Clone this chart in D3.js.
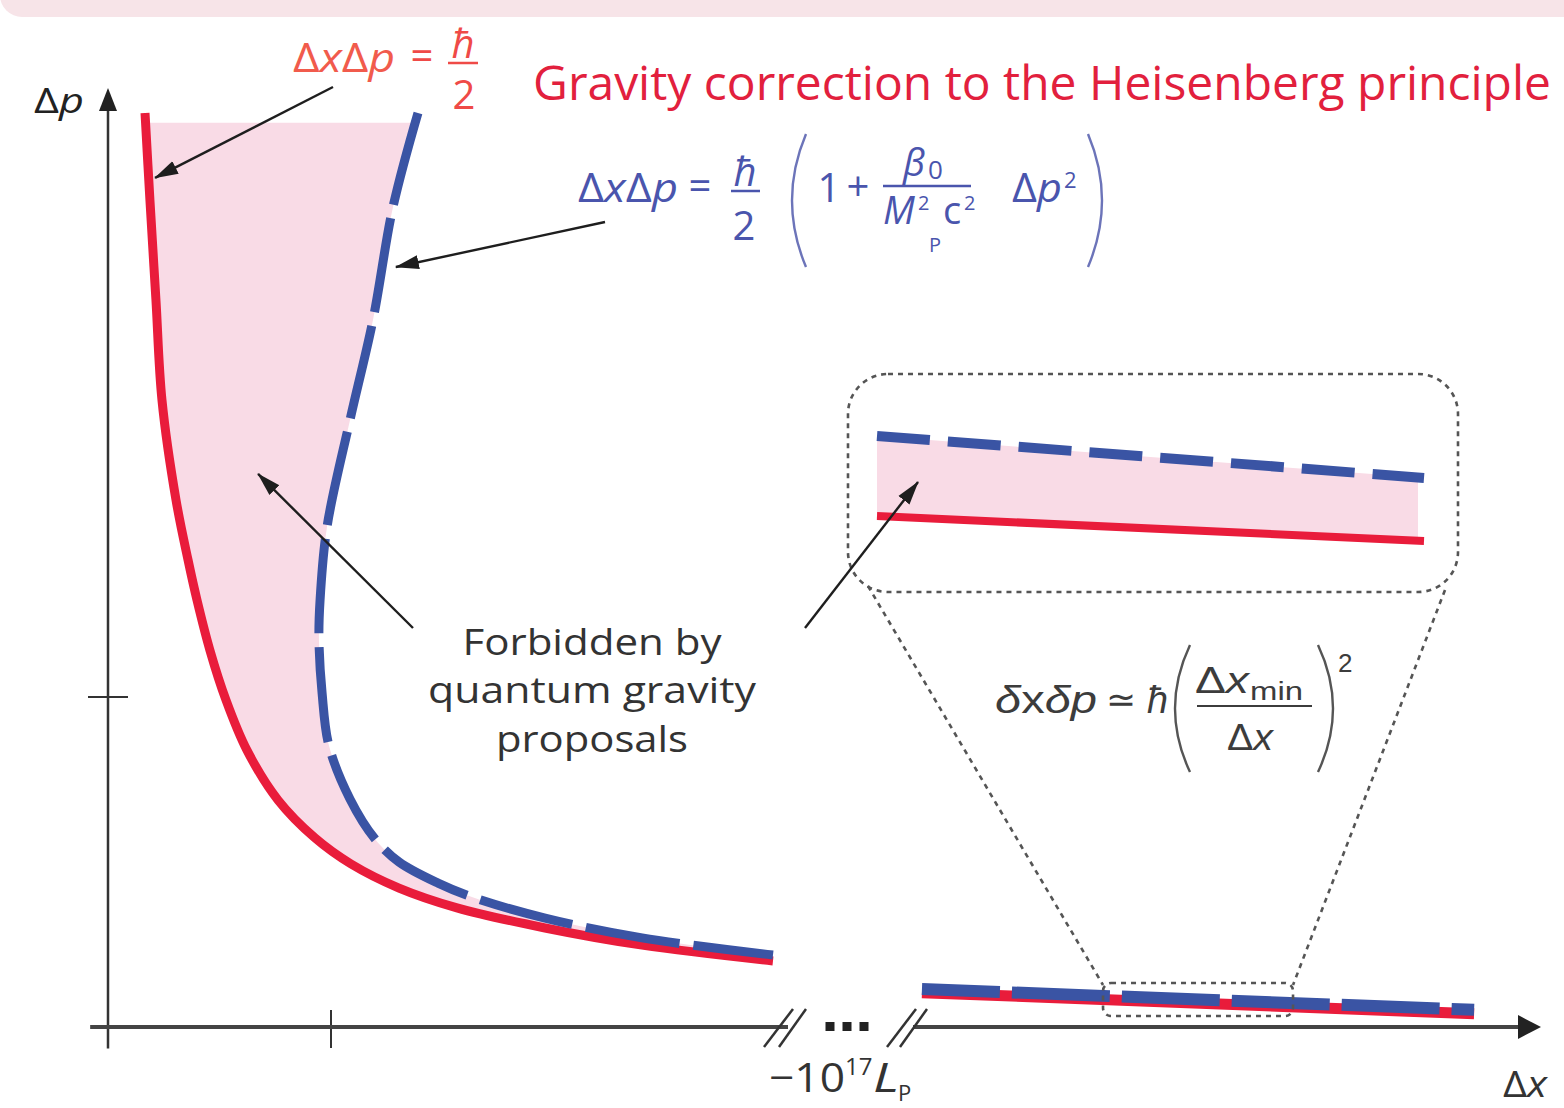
<!DOCTYPE html>
<html><head><meta charset="utf-8">
<script src="https://cdn.jsdelivr.net/npm/d3@7"></script>
<style>body{margin:0;background:#fff}svg{display:block}</style>
</head><body>
<svg id="chart" width="1564" height="1108"></svg>
<script>
// ---------- data (axis units: x 1 = marked Δx tick, y 1 = marked Δp tick) ----------
const heisenbergDx = [0.166,0.188,0.215,0.242,0.305,0.359,0.399,0.457,0.529,0.623,0.762,0.928,1.090,1.305,1.565,1.960,2.395,2.982];
const heisenbergDp = [2.770,2.506,2.203,1.900,1.597,1.415,1.294,1.142,0.991,0.839,0.688,0.573,0.494,0.421,0.361,0.300,0.248,0.200];
const gravityDx = [1.390,1.278,1.188,1.085,0.982,0.951,0.946,0.960,0.991,1.085,1.197,1.305,1.480,1.632,1.960,2.395,2.982];
const gravityDp = [2.770,2.485,2.142,1.839,1.515,1.294,1.173,1.012,0.852,0.691,0.570,0.500,0.436,0.394,0.330,0.270,0.218];
const forbiddenTop = 2.74;
// far region (beyond the axis break, ~10^17 L_P)
const farDx = [3.650, 6.126];
const farHeisenberg = [0.104, 0.040];
const farGravity = [0.115, 0.052];
const zoomWindow = [4.462, 5.314];
// zoomed inset (relative units)
const insetDx = [0, 1];
const insetHeisenberg = [0.314, 0.136];
const insetGravity = [0.886, 0.586];
const insetFillEnd = 0.989;
const xTickValues = [1];
const yTickValues = [1];
const titleText = "Gravity correction to the Heisenberg principle";
const forbiddenLines = ["Forbidden by", "quantum gravity", "proposals"];

// ---------- setup ----------
const svg = d3.select("#chart");
const RED = "#e91c3b", BLUE = "#3a54a4", PINK = "#f9dbe6", AX = "#333";
const x = d3.scaleLinear().domain([0, 1]).range([108, 331]);
const y = d3.scaleLinear().domain([0, 1]).range([1027, 697]);
const ix = d3.scaleLinear().domain([0, 1]).range([877, 1424]);
const iy = d3.scaleLinear().domain([0, 1]).range([560, 420]);

const defs = svg.append("defs");
defs.append("marker").attr("id", "ah").attr("markerUnits", "userSpaceOnUse")
  .attr("viewBox", "0 -8 24 16").attr("markerWidth", 24).attr("markerHeight", 16)
  .attr("refX", 23).attr("refY", 0).attr("orient", "auto")
  .append("path").attr("d", "M0,-7L24,0L0,7Z").attr("fill", "#1e1e1e");
defs.append("clipPath").attr("id", "fillClip").append("rect")
  .attr("x", 0).attr("y", y(forbiddenTop)).attr("width", 1564).attr("height", 1108);
defs.append("clipPath").attr("id", "insetClip").append("rect")
  .attr("x", 0).attr("y", 0).attr("width", ix(insetFillEnd)).attr("height", 1108);

// top pink band
svg.append("rect").attr("x", 0).attr("y", -40).attr("width", 1620).attr("height", 57)
  .attr("rx", 22).attr("fill", "#f7e4e8");

const heis = heisenbergDx.map((d, i) => [d, heisenbergDp[i]]);
const grav = gravityDx.map((d, i) => [d, gravityDp[i]]);
const line = d3.line().x(d => x(d[0])).y(d => y(d[1])).curve(d3.curveCatmullRom.alpha(0.5));
const lineLin = d3.line().x(d => x(d[0])).y(d => y(d[1]));

// forbidden fill: red curve down, then gravity curve back up
const fillD = line(heis) + line(grav.slice().reverse()).replace(/^M/, "L") + "Z";
svg.append("path").attr("d", fillD).attr("fill", PINK).attr("clip-path", "url(#fillClip)");

// axes
const axG = svg.append("g");
axG.append("line").attr("x1", x(0)).attr("x2", x(0)).attr("y1", y(-0.065)).attr("y2", 104)
  .attr("stroke", AX).attr("stroke-width", 2.5);
axG.append("path").attr("d", `M${x(0)},88 L${x(0) - 9},111 L${x(0) + 9},111 Z`).attr("fill", "#222");
axG.selectAll(".yt").data(yTickValues).join("line")
  .attr("x1", x(0) - 20).attr("x2", x(0) + 20).attr("y1", d => y(d)).attr("y2", d => y(d))
  .attr("stroke", AX).attr("stroke-width", 2);
axG.selectAll(".xt").data(xTickValues).join("line")
  .attr("x1", d => x(d)).attr("x2", d => x(d)).attr("y1", y(0) - 17).attr("y2", y(0) + 21)
  .attr("stroke", AX).attr("stroke-width", 2);
axG.append("line").attr("x1", x(-0.08)).attr("x2", 788).attr("y1", y(0)).attr("y2", y(0))
  .attr("stroke", "#444").attr("stroke-width", 4);
axG.append("line").attr("x1", 913).attr("x2", 1522).attr("y1", y(0)).attr("y2", y(0))
  .attr("stroke", "#444").attr("stroke-width", 4);
axG.append("path").attr("d", `M1541,${y(0)} L1518,${y(0) - 12} L1518,${y(0) + 12} Z`).attr("fill", "#222");
// break marks
[[764, 793], [779, 806], [887, 916], [900, 927]].forEach(([a, b]) => {
  axG.append("line").attr("x1", a).attr("y1", 1047).attr("x2", b).attr("y2", 1009)
    .attr("stroke", AX).attr("stroke-width", 2.5);
});
[830, 847, 864].forEach(cx => axG.append("rect").attr("x", cx - 4.5).attr("y", 1022).attr("width", 9).attr("height", 9).attr("fill", "#222"));

// curves
svg.append("path").attr("d", line(heis)).attr("fill", "none").attr("stroke", RED).attr("stroke-width", 9);
svg.append("path").attr("d", line(grav)).attr("fill", "none").attr("stroke", BLUE).attr("stroke-width", 9)
  .attr("stroke-dasharray", "95 14");

// far region strip
const farH = farDx.map((d, i) => [d, farHeisenberg[i]]);
const farG = farDx.map((d, i) => [d, farGravity[i]]);
svg.append("path").attr("d", lineLin(farH)).attr("stroke", RED).attr("stroke-width", 11).attr("fill", "none");
svg.append("path").attr("d", lineLin(farG)).attr("stroke", BLUE).attr("stroke-width", 12).attr("fill", "none")
  .attr("stroke-dasharray", "98 12").attr("stroke-dashoffset", 20);

// zoom window & inset
const dotted = g => g.attr("fill", "none").attr("stroke", "#555").attr("stroke-width", 2.6).attr("stroke-dasharray", "5 5");
const zx0 = x(zoomWindow[0]), zx1 = x(zoomWindow[1]);
svg.append("rect").attr("x", zx0).attr("y", 983).attr("width", zx1 - zx0).attr("height", 33).attr("rx", 8).call(dotted);
svg.append("rect").attr("x", 848).attr("y", 374).attr("width", 610).attr("height", 218).attr("rx", 40).call(dotted);
svg.append("line").attr("x1", 868).attr("y1", 586).attr("x2", zx0).attr("y2", 985).call(dotted);
svg.append("line").attr("x1", 1445).attr("y1", 590).attr("x2", zx1).attr("y2", 985).call(dotted);

const iH = insetDx.map((d, i) => [d, insetHeisenberg[i]]);
const iG = insetDx.map((d, i) => [d, insetGravity[i]]);
svg.append("path").attr("d", d3.area().x(d => ix(d[0])).y0(d => iy(d[1])).y1((d, i) => iy(iG[i][1]))(iH))
  .attr("fill", PINK).attr("clip-path", "url(#insetClip)");
const iline = d3.line().x(d => ix(d[0])).y(d => iy(d[1]));
svg.append("path").attr("d", iline(iH)).attr("stroke", RED).attr("stroke-width", 8).attr("fill", "none");
svg.append("path").attr("d", iline(iG)).attr("stroke", BLUE).attr("stroke-width", 10).attr("fill", "none")
  .attr("stroke-dasharray", "53 18");

// annotation arrows
const arrow = (x1, y1, x2, y2) => svg.append("line").attr("x1", x1).attr("y1", y1).attr("x2", x2).attr("y2", y2)
  .attr("stroke", "#1e1e1e").attr("stroke-width", 2.4).attr("marker-end", "url(#ah)");
arrow(333, 87, x(0.211), y(2.573));
arrow(605, 222, x(1.291), y(2.303));
arrow(413, 628, x(0.673), y(1.676));
arrow(805, 628, ix(0.075), iy(0.557));

// ---------- text ----------
const F = "'Open Sans', 'Noto Sans', sans-serif";
const txt = (s, px, py, opts = {}) => {
  const t = svg.append("text").attr("x", px).attr("y", py).attr("font-family", opts.family || F)
    .attr("font-size", opts.size || 40).attr("fill", opts.fill || "#333")
    .attr("text-anchor", opts.anchor || "start");
  if (opts.italic) t.attr("font-style", "italic");
  if (opts.len) t.attr("textLength", opts.len).attr("lengthAdjust", "spacingAndGlyphs");
  if (Array.isArray(s)) s.forEach(p => t.append("tspan").text(p[0]).attr("font-style", p[1] ? "italic" : "normal"));
  else t.text(s);
  return t;
};
const frac = (x1, x2, yy, col, w) => svg.append("line").attr("x1", x1).attr("x2", x2).attr("y1", yy).attr("y2", yy)
  .attr("stroke", col).attr("stroke-width", w || 2.5);
const paren = (xTop, yTop, yBot, bulge, col) => svg.append("path")
  .attr("d", `M${xTop},${yTop} Q${xTop + bulge},${(yTop + yBot) / 2} ${xTop},${yBot}`)
  .attr("fill", "none").attr("stroke", col).attr("stroke-width", 2.4);

// title
txt(titleText, 533, 100, { size: 47, fill: "#e2203d", len: 1018 });

// y label
txt([["Δ", 0], ["p", 1]], 34, 113, { size: 34, fill: "#222", len: 50 });

// red formula
const RF = "#ef4a47";
txt([["Δ", 0], ["x", 1], ["Δ", 0], ["p", 1]], 293, 72, { size: 40, fill: "#f15b4c", len: 102 });
txt("=", 422, 70, { size: 40, fill: RF, anchor: "middle" });
txt("ħ", 463, 58, { size: 40, fill: RF, anchor: "middle", italic: true });
frac(448, 478, 63, RF);
txt("2", 464, 109, { size: 40, fill: RF, anchor: "middle" });

// blue formula
const BF = "#4a55ad";
txt([["Δ", 0], ["x", 1], ["Δ", 0], ["p", 1]], 578, 202, { size: 40, fill: BF, len: 100 });
txt("=", 700, 200, { size: 40, fill: BF, anchor: "middle" });
txt("ħ", 745, 186, { size: 40, fill: BF, anchor: "middle", italic: true });
frac(731, 760, 191, BF);
txt("2", 744, 240, { size: 40, fill: BF, anchor: "middle" });
paren(806, 134, 267, -28, "#6c74b9");
txt("1", 829, 202, { size: 40, fill: BF, anchor: "middle" });
txt("+", 858, 201, { size: 40, fill: BF, anchor: "middle" });
txt("β", 903, 176, { size: 38, fill: BF, italic: true });
txt("0", 928, 179, { size: 26, fill: BF });
frac(883, 971, 186, BF);
txt("M", 883, 224, { size: 38, fill: BF, italic: true });
txt("2", 918, 210, { size: 20, fill: BF });
txt("P", 929, 252, { size: 20, fill: BF });
txt("c", 943, 224, { size: 38, fill: BF });
txt("2", 964, 210, { size: 20, fill: BF });
txt([["Δ", 0], ["p", 1]], 1012, 202, { size: 40, fill: BF, len: 50 });
txt("2", 1064, 188, { size: 22, fill: BF });
paren(1088, 134, 267, 28, "#6c74b9");

// forbidden text
forbiddenLines.forEach((s, i) => txt(s, 592, [655, 703, 752][i], { size: 36, fill: "#333", anchor: "middle", len: [259, 328, 192][i] }));

// inset formula
const G = "#3c3c3c", LS = "'Liberation Sans', Arial, sans-serif";
txt([["δ", 1], ["x", 0], ["δ", 1], ["p", 1]], 995, 713, { size: 38, fill: G, family: LS, len: 102 });
txt("≃", 1121, 712, { size: 36, fill: G, family: LS, anchor: "middle" });
txt("ħ", 1147, 713, { size: 38, fill: G, family: LS, italic: true });
paren(1190, 645, 772, -30, "#555");
txt([["Δ", 0], ["x", 1]], 1195, 693, { size: 36, fill: G, family: LS, len: 54 });
txt("min", 1250, 700, { size: 26, fill: G, family: LS, len: 53 });
frac(1197, 1312, 706, G, 2.2);
txt([["Δ", 0], ["x", 1]], 1227, 750, { size: 36, fill: G, family: LS, len: 46 });
paren(1318, 645, 772, 30, "#555");
txt("2", 1338, 672, { size: 26, fill: G, family: LS });

// axis labels
txt("−10", 769, 1092, { size: 40, fill: "#333", len: 76 });
txt("17", 845, 1075, { size: 24, fill: "#333" });
txt("L", 873, 1092, { size: 40, fill: "#333", italic: true, len: 26 });
txt("P", 898, 1101, { size: 22, fill: "#333" });
txt([["Δ", 0], ["x", 1]], 1503, 1097, { size: 37, fill: "#333", len: 44 });
</script>
</body></html>
